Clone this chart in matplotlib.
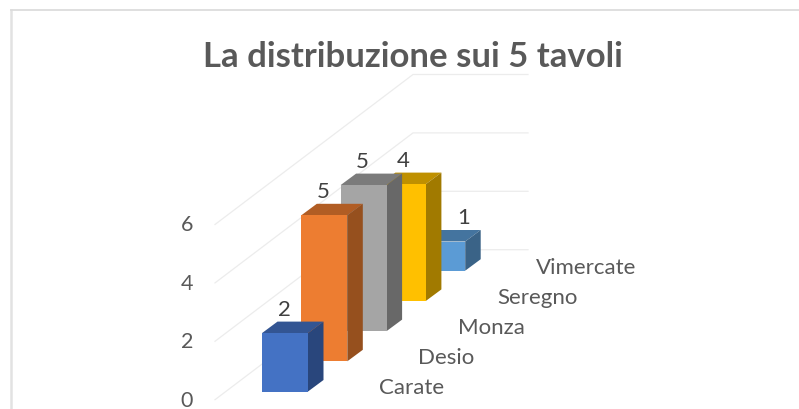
import numpy as np
from matplotlib import pyplot as plt
from matplotlib.patches import Polygon

cities = ["Carate", "Desio", "Monza", "Seregno", "Vimercate"]
values = [2, 5, 5, 4, 1]
y_ticks = [0, 2, 4, 6]
title = "La distribuzione sui 5 tavoli"

front = ["#4472c4", "#ed7d31", "#a5a5a5", "#ffc000", "#5b9bd5"]
top = ["#335593", "#b15d24", "#7b7b7b", "#bf9000", "#44749f"]
side = ["#29467c", "#96501e", "#686868", "#a17a00", "#3a6387"]

# oblique projection, everything below is in pixels of the picture
unit = 29.2
x0, y0 = 262, 392.5
step = (39.3, -30.2)
bar_w = 46
depth = (15.5, -11.5)
wall_l = (215, 400.7)
wall_b = (413, 250.7)
wall_r = 528
# the last data label sits right of its bar's middle
label_shift = [0, 0, 0, 1, 22]

plt.rcParams['font.family'] = ['Lato', 'DejaVu Sans']
fig = plt.figure(figsize=(7.99, 4.10), dpi=100)
ax = fig.add_axes([0, 0, 1, 1])
ax.set_xlim(0, 799)
ax.set_ylim(410, 0)
ax.axis("off")

# chart frame, only left and top are in the picture
ax.plot([10.5, 10.5], [410, 10.8], color="#e2e2e2", lw=1.8, zorder=1)
ax.plot([10.5, 799], [10.8, 10.8], color="#dcdcdc", lw=1.3, zorder=1)

ax.text(413, 57, title, ha="center", va="center", fontsize=25,
        fontweight="bold", color="#595959")

for t in y_ticks:
    h = t * unit
    ax.plot([wall_l[0], wall_b[0], wall_r],
            [wall_l[1] - h, wall_b[1] - h, wall_b[1] - h],
            color="#ececec", lw=0.9, zorder=2)
    ax.text(187, wall_l[1] - h, str(t), ha="center", va="center",
            fontsize=15.5, color="#595959")

# back to front so the nearer bars hide the others
for i in range(len(cities) - 1, -1, -1):
    xl = x0 + i * step[0]
    xr = xl + bar_w
    yb = y0 + i * step[1]
    yt = yb - values[i] * unit
    dx, dy = depth
    ax.add_patch(Polygon([(xl, yt), (xr, yt), (xr + dx, yt + dy), (xl + dx, yt + dy)],
                         fc=top[i], ec="none", zorder=3 + 2 * (5 - i)))
    ax.add_patch(Polygon([(xr, yt), (xr + dx, yt + dy), (xr + dx, yb + dy), (xr, yb)],
                         fc=side[i], ec="none", zorder=3 + 2 * (5 - i)))
    ax.add_patch(Polygon([(xl, yt), (xr, yt), (xr, yb), (xl, yb)],
                         fc=front[i], ec="none", zorder=3 + 2 * (5 - i)))
    ax.text(xl + 22 + label_shift[i], yt - 24, str(values[i]), ha="center", va="center",
            fontsize=16, color="#404040", zorder=20)
    ax.text(xl + 117, yb - 4, cities[i], ha="left", va="center",
            fontsize=16, color="#595959", zorder=20)

fig.savefig("out.png", dpi=100)
